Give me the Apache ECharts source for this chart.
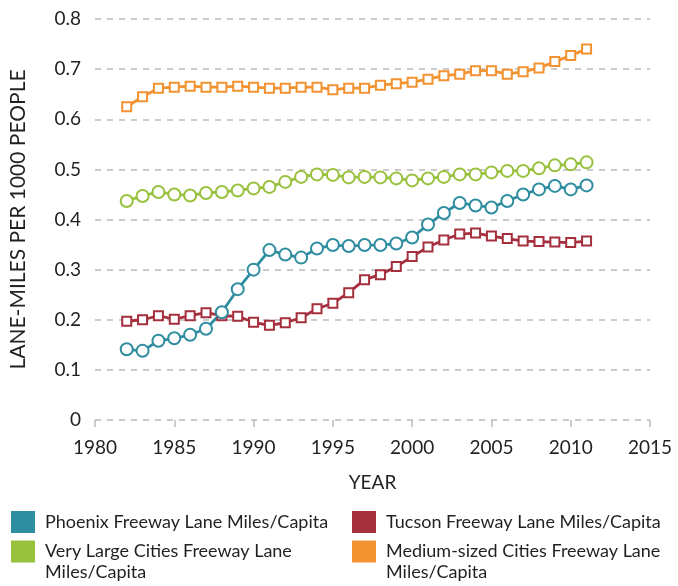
<!DOCTYPE html>
<html>
<head>
<meta charset="utf-8">
<script src="https://cdn.jsdelivr.net/npm/echarts@6/dist/echarts.min.js"></script>
<style>
  html, body { margin: 0; padding: 0; background: #fff; }
  #chart { width: 678px; height: 586px; }
</style>
</head>
<body>
<div id="chart"></div>
<script>
// years with data
var years = [1982, 1983, 1984, 1985, 1986, 1987, 1988, 1989, 1990, 1991,
  1992, 1993, 1994, 1995, 1996, 1997, 1998, 1999, 2000, 2001,
  2002, 2003, 2004, 2005, 2006, 2007, 2008, 2009, 2010, 2011]

var phoenix = [0.141, 0.138, 0.158, 0.163, 0.170, 0.182, 0.215, 0.261, 0.300, 0.339,
  0.330, 0.324, 0.342, 0.349, 0.347, 0.349, 0.349, 0.352, 0.364, 0.390,
  0.413, 0.433, 0.428, 0.424, 0.437, 0.450, 0.460, 0.467, 0.460, 0.468]
var tucson = [0.197, 0.200, 0.208, 0.201, 0.208, 0.214, 0.208, 0.207, 0.195, 0.189,
  0.194, 0.204, 0.222, 0.233, 0.254, 0.280, 0.290, 0.306, 0.326, 0.345,
  0.359, 0.371, 0.373, 0.367, 0.362, 0.357, 0.356, 0.355, 0.354, 0.357]
var veryLarge = [0.437, 0.447, 0.455, 0.450, 0.448, 0.453, 0.455, 0.458, 0.462, 0.465,
  0.475, 0.485, 0.490, 0.489, 0.484, 0.485, 0.484, 0.482, 0.478, 0.482,
  0.485, 0.490, 0.490, 0.494, 0.497, 0.497, 0.502, 0.508, 0.510, 0.514]
var medium = [0.625, 0.645, 0.662, 0.664, 0.666, 0.664, 0.664, 0.666, 0.664, 0.662,
  0.662, 0.664, 0.664, 0.659, 0.662, 0.662, 0.668, 0.671, 0.674, 0.680,
  0.687, 0.690, 0.697, 0.697, 0.690, 0.695, 0.702, 0.715, 0.727, 0.740]

var names = ['Phoenix Freeway Lane Miles/Capita', 'Tucson Freeway Lane Miles/Capita',
  'Very Large Cities Freeway Lane Miles/Capita', 'Medium-sized Cities Freeway Lane Miles/Capita']

var TEAL = '#2f8da0', RED = '#a62f3e', GREEN = '#98c13d', ORANGE = '#f39230'
var FONT = 'Lato'
var TEXT = '#231f20'

function pairs(vals) {
  return years.map(function (y, i) { return [y, vals[i]] })
}

function lineSeries(name, vals, color, symbol) {
  var isRect = symbol === 'emptyRect'
  return {
    name: name,
    type: 'line',
    data: pairs(vals),
    symbol: symbol,
    symbolSize: isRect ? 9 : 12,
    showAllSymbol: true,
    lineStyle: { color: color, width: 2.8 },
    itemStyle: { color: color, borderWidth: 3.2 },
    emphasis: { disabled: true }
  }
}

// wrapped items get a blank first line so the swatch lines up with the first text line
function legendItem(name, color, left, top, wrap) {
  return {
    left: left,
    top: top,
    padding: 0,
    icon: 'rect',
    itemWidth: 24,
    itemHeight: 22,
    selectedMode: false,
    data: [{ name: name, itemStyle: { color: color, borderWidth: 0 } }],
    formatter: function (n) { return wrap ? ' \n' + n.replace(' Miles/Capita', '\nMiles/Capita') : n },
    textStyle: {
      fontFamily: FONT, fontSize: 18, color: TEXT, lineHeight: 21,
      padding: [0, 0, 0, 5]
    }
  }
}

var chart = echarts.init(document.getElementById('chart'))
var option = {
  animation: false,
  backgroundColor: '#fff',
  grid: { left: 95, right: 28, top: 19, bottom: 166 },
  xAxis: {
    type: 'value',
    min: 1980, max: 2015, interval: 5,
    offset: 5,
    name: 'YEAR',
    nameLocation: 'middle',
    nameGap: 48,
    nameTextStyle: { fontFamily: FONT, fontSize: 19, color: TEXT },
    axisLine: { show: false },
    axisTick: { show: true, length: 7, lineStyle: { color: '#bbb', width: 1.5 } },
    splitLine: { show: false },
    axisLabel: {
      fontFamily: FONT, fontSize: 19, color: TEXT, margin: 13,
      formatter: function (v) { return String(v) }
    }
  },
  yAxis: {
    type: 'value',
    min: 0, max: 0.8, interval: 0.1,
    name: 'LANE-MILES PER 1000 PEOPLE',
    nameLocation: 'middle',
    nameGap: 66,
    nameTextStyle: { fontFamily: FONT, fontSize: 21, color: TEXT },
    axisLine: { show: false },
    axisTick: { show: false },
    axisLabel: {
      fontFamily: FONT, fontSize: 19, color: TEXT, margin: 14,
      formatter: function (v) { return v === 0 ? '0' : v.toFixed(1) }
    },
    splitLine: { show: true, lineStyle: { color: '#bbb', width: 1.5, type: [6, 6] } }
  },
  legend: [
    legendItem(names[0], TEAL, 11, 511, false),
    legendItem(names[1], RED, 352, 511, false),
    legendItem(names[2], GREEN, 11, 520, true),
    legendItem(names[3], ORANGE, 352, 520, true)
  ],
  series: [
    lineSeries(names[1], tucson, RED, 'emptyRect'),
    lineSeries(names[0], phoenix, TEAL, 'emptyCircle'),
    lineSeries(names[2], veryLarge, GREEN, 'emptyCircle'),
    lineSeries(names[3], medium, ORANGE, 'emptyRect')
  ]
}
chart.setOption(option)
</script>
</body>
</html>
